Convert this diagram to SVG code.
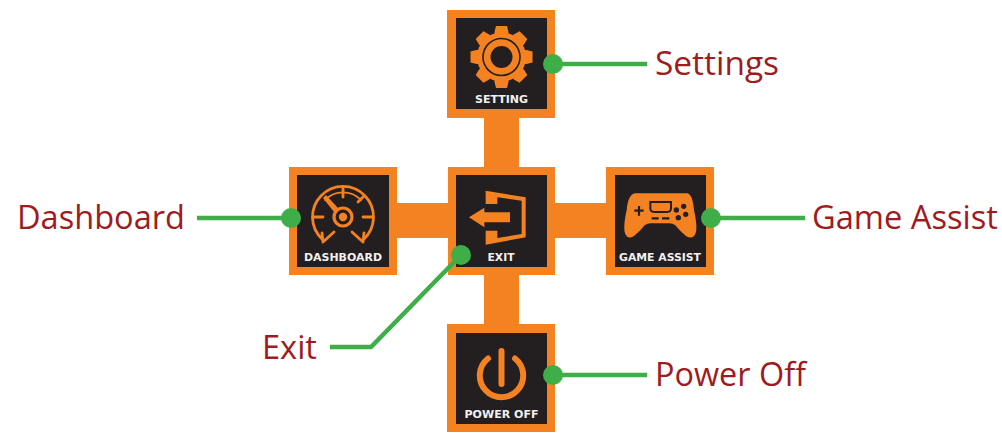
<svg xmlns="http://www.w3.org/2000/svg" width="1002" height="437" viewBox="0 0 1002 437">
<style>
.o{fill:#f58220}.k{fill:#231f20}
.ln{fill:none;stroke:#f58220;stroke-linecap:round}
.t{font-family:"DejaVu Sans",sans-serif;font-weight:700;font-size:10.500px;fill:#f1f1f1;text-anchor:middle}
.l{font-family:"Open Sans","Noto Sans",sans-serif;font-size:33px;fill:#9e1b21}
.c{fill:none;stroke:#3fae49;stroke-width:4.500}
.d{fill:#3fae49}
</style>
<g id="bars" class="o">
<rect x="484" y="110" width="35" height="60"/><rect x="484" y="270" width="35" height="60"/>
<rect x="390" y="203" width="60" height="35"/><rect x="550" y="203" width="60" height="35"/>
</g>
<g id="setting">
<rect class="o" x="447" y="10" width="108" height="108"/><rect class="k" x="456" y="18" width="91" height="91"/>
<g transform="translate(501.500 57)">
<g class="o">
<path id="tooth" d="M-7 -25L-5.500 -31H5.500L7 -25V25L5.500 31H-5.500L-7 25Z"/>
<path d="M-7 -25L-5.500 -31H5.500L7 -25V25L5.500 31H-5.500L-7 25Z" transform="rotate(45)"/>
<path d="M-7 -25L-5.500 -31H5.500L7 -25V25L5.500 31H-5.500L-7 25Z" transform="rotate(90)"/>
<path d="M-7 -25L-5.500 -31H5.500L7 -25V25L5.500 31H-5.500L-7 25Z" transform="rotate(135)"/>
<circle r="24.500"/></g>
<circle r="18.500" fill="none" stroke="#231f20" stroke-width="1.600"/>
<circle r="11" class="k"/>
</g>
<text class="t" x="501.500" y="103" textLength="53" lengthAdjust="spacingAndGlyphs">SETTING</text>
</g>
<g id="dashboard">
<rect class="o" x="289" y="167" width="108" height="108"/><rect class="k" x="297" y="175" width="92" height="92"/>
<g transform="translate(343 217)">
<path class="ln" stroke-width="2.800" d="M-20.500 22.500A30.500 30.500 0 1 1 20.500 22.500" style="stroke-linecap:butt"/>
<path class="ln" stroke-width="1.800" d="M-18 -17A25 25 0 0 1 18 -17"/>
<path class="ln" stroke-width="2.800" d="M-20 25L-9 15M-20 25L-21 16M20 25L9 15M20 25L21 16M0 -29V-20M-30 0H-20M30 0H20M21 -21L15 -15"/>
<path d="M-20 -19L-17 -22L-5 -9L-9 -5Z" class="o"/>
<circle r="9" fill="none" stroke="#f58220" stroke-width="3.200"/>
<circle r="4.200" class="o"/>
</g>
<text class="t" x="343" y="260.500" textLength="78" lengthAdjust="spacingAndGlyphs">DASHBOARD</text>
</g>
<g id="exit">
<rect class="o" x="448" y="167" width="107" height="108"/><rect class="k" x="456" y="175" width="91" height="92"/>
<g class="o" transform="translate(440 160) scale(.3333)">
<path d="M137 92L257 112V232L137 254V212H172V234L245 222V122L172 112V132H137Z"/>
<path d="M87 172L133 143V157H210V187H133V202Z"/>
</g>
<text class="t" x="501" y="260.500" textLength="27" lengthAdjust="spacingAndGlyphs">EXIT</text>
</g>
<g id="game-assist">
<rect class="o" x="606" y="167" width="108" height="108"/><rect class="k" x="615" y="175" width="91" height="92"/>
<g transform="translate(600 160) scale(.3333)">
<path class="o" d="M105 100H262Q278 104 282 150Q294 205 286 222Q278 240 258 228Q240 214 226 196Q218 190 208 190H152Q142 190 134 196Q120 214 102 228Q84 240 76 222Q68 205 80 150Q84 104 105 100Z"/>
<path d="M151 126H213V145Q213 156 202 156H162Q151 156 151 145Z" fill="none" stroke="#231f20" stroke-width="6"/>
<path d="M103 152H131M117 138V167M155 175H176M186 175H208" fill="none" stroke="#231f20" stroke-width="6.500"/>
<g class="k"><circle cx="229" cy="150" r="8"/><circle cx="251" cy="139" r="8"/><circle cx="257" cy="163" r="8"/><circle cx="235" cy="173" r="8"/></g>
</g>
<text class="t" x="660" y="260.500" textLength="82" lengthAdjust="spacingAndGlyphs">GAME ASSIST</text>
</g>
<g id="power-off">
<rect class="o" x="447" y="324" width="108" height="108"/><rect class="k" x="456" y="333" width="91" height="91"/>
<path class="ln" stroke-width="6" d="M488 358.500A21.700 21.700 0 1 0 515 358.500M501.500 351V384"/>
<text class="t" x="501.500" y="417.500" textLength="74" lengthAdjust="spacingAndGlyphs">POWER OFF</text>
</g>
<g id="connectors">
<path class="c" d="M553 64H647"/><circle class="d" cx="553" cy="64" r="10"/>
<path class="c" d="M197 218H291"/><circle class="d" cx="291" cy="218" r="10"/>
<path class="c" d="M711 218H805"/><circle class="d" cx="711" cy="218" r="10"/>
<path class="c" d="M553 375H647"/><circle class="d" cx="553" cy="375" r="10"/>
<path class="c" d="M461 255L371 347H330"/><circle class="d" cx="461" cy="255" r="10"/>
</g>
<g id="labels">
<text class="l" x="655" y="75" textLength="124" lengthAdjust="spacingAndGlyphs">Settings</text>
<text class="l" x="17" y="229" textLength="168" lengthAdjust="spacingAndGlyphs">Dashboard</text>
<text class="l" x="812" y="229" textLength="186" lengthAdjust="spacingAndGlyphs">Game Assist</text>
<text class="l" x="262" y="359" textLength="55" lengthAdjust="spacingAndGlyphs">Exit</text>
<text class="l" x="655" y="386" textLength="151" lengthAdjust="spacingAndGlyphs">Power Off</text>
</g>
</svg>
